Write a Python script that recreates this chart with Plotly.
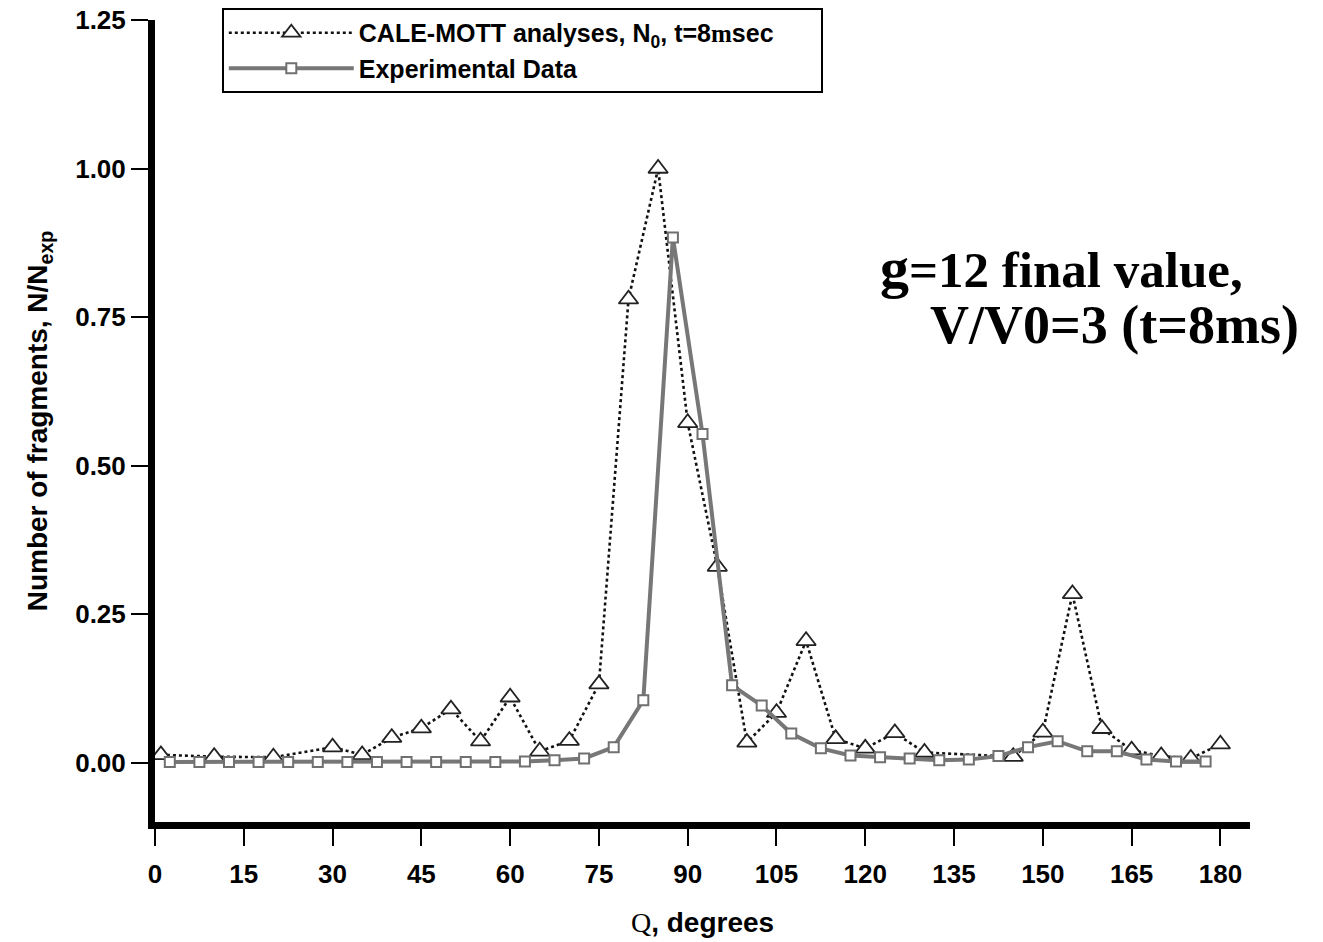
import plotly.graph_objects as go

# CALE-MOTT analyses (triangles)
cale_x = [1, 10, 20, 30, 35, 40, 45, 50, 55, 60, 65, 70, 75, 80, 85, 90, 95, 100,
          105, 110, 115, 120, 125, 130, 145, 150, 155, 160, 165, 170, 175, 180]
cale_y = [0.013, 0.010, 0.009, 0.026, 0.013, 0.042, 0.058, 0.090, 0.036, 0.110, 0.019,
          0.037, 0.132, 0.780, 1.000, 0.572, 0.330, 0.034, 0.084, 0.205, 0.040, 0.024,
          0.050, 0.017, 0.010, 0.051, 0.284, 0.057, 0.021, 0.011, 0.007, 0.031]

# Experimental data (squares)
exp_x = [2.5, 7.5, 12.5, 17.5, 22.5, 27.5, 32.5, 37.5, 42.5, 47.5, 52.5, 57.5, 62.5,
         67.5, 72.5, 77.5, 82.5, 87.5, 92.5, 97.5, 102.5, 107.5, 112.5, 117.5, 122.5,
         127.5, 132.5, 137.5, 142.5, 147.5, 152.5, 157.5, 162.5, 167.5, 172.5, 177.5]
exp_y = [0.001, 0.001, 0.001, 0.001, 0.001, 0.001, 0.001, 0.001, 0.001, 0.001, 0.001,
         0.001, 0.002, 0.004, 0.007, 0.026, 0.105, 0.884, 0.553, 0.130, 0.096, 0.049,
         0.024, 0.012, 0.009, 0.007, 0.004, 0.005, 0.011, 0.026, 0.036, 0.019, 0.019,
         0.005, 0.002, 0.002]

x_ticks = [0, 15, 30, 45, 60, 75, 90, 105, 120, 135, 150, 165, 180]
y_ticks = [0.0, 0.25, 0.5, 0.75, 1.0, 1.25]

SANS = "Liberation Sans, Arial, sans-serif"
SERIF = "Liberation Serif, Times New Roman, serif"
PAD = "\u00a0" * 6

fig = go.Figure()
fig.add_trace(go.Scatter(
    x=cale_x, y=cale_y, mode="lines+markers",
    name="<b>CALE-MOTT analyses, N<sub>0</sub>, t=8<span style=\"font-family:Liberation Serif\">m</span>sec" + PAD + "</b>",
    line=dict(color="#111111", width=2.6, dash="dot"),
    marker=dict(symbol="triangle-up", size=17, color="white",
                line=dict(color="#222222", width=1.8)),
))
fig.add_trace(go.Scatter(
    x=exp_x, y=exp_y, mode="lines+markers",
    name="<b>Experimental Data</b>",
    line=dict(color="#777777", width=4),
    marker=dict(symbol="square", size=10, color="white",
                line=dict(color="#707070", width=2)),
))

fig.add_annotation(
    xref="paper", yref="paper", x=0.660, y=0.692, xanchor="left", yanchor="middle",
    text="<b><span style=\"font-size:58px\">g</span>=12 final value,</b>",
    showarrow=False, font=dict(family=SERIF, size=51, color="black"),
)
fig.add_annotation(
    xref="paper", yref="paper", x=0.706, y=0.620, xanchor="left", yanchor="middle",
    text="<b>V/V0=3 (t=8ms)</b>",
    showarrow=False, font=dict(family=SERIF, size=54, color="black"),
)

fig.update_layout(
    width=1323, height=942,
    paper_bgcolor="white", plot_bgcolor="white",
    margin=dict(l=155, r=73, t=20, b=120, autoexpand=False),
    font=dict(family=SANS, color="black"),
    showlegend=True,
    legend=dict(
        x=0.061, y=1.015, xanchor="left", yanchor="top",
        bgcolor="white", bordercolor="black", borderwidth=2,
        font=dict(family=SANS, size=25, color="black"),
        itemwidth=125, tracegroupgap=0,
    ),
    xaxis=dict(
        range=[0, 185], tickmode="array", tickvals=x_ticks,
        ticktext=[str(v) for v in x_ticks],
        showline=True, linecolor="black", linewidth=7,
        ticks="outside", ticklen=17, tickwidth=2, tickcolor="black",
        ticklabelstandoff=6, automargin=False,
        showgrid=False, zeroline=False,
        tickfont=dict(family=SANS, size=26, color="black", weight="bold"),
        title=dict(text="<b><span style=\"font-family:Liberation Serif;font-weight:normal\">Q</span>, degrees</b>",
                   font=dict(family=SANS, size=28, color="black"), standoff=27),
    ),
    yaxis=dict(
        range=[-0.1, 1.25], tickmode="array", tickvals=y_ticks,
        ticktext=["%.2f" % v for v in y_ticks],
        showline=True, linecolor="black", linewidth=7,
        ticks="outside", ticklen=17, tickwidth=2, tickcolor="black",
        automargin=False,
        showgrid=False, zeroline=False,
        tickfont=dict(family=SANS, size=26, color="black", weight="bold"),
        title=dict(text="<b>Number of fragments, N/N<sub>exp</sub></b>",
                   font=dict(family=SANS, size=28, color="black"), standoff=22),
    ),
)

fig.write_html("out.html")
